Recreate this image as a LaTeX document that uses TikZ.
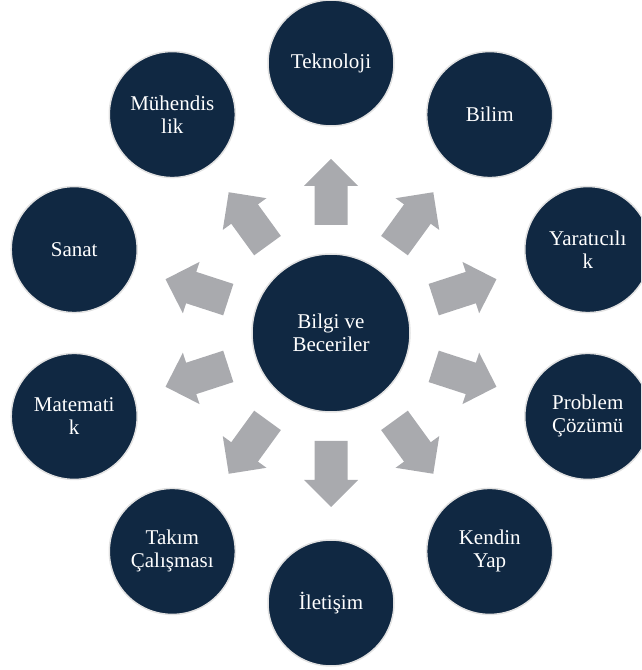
\documentclass[tikz,border=0pt]{standalone}
\usepackage{fontspec}
\setmainfont{Liberation Serif}
\definecolor{navy}{RGB}{16,40,66}
\definecolor{ringgray}{RGB}{226,226,226}
\definecolor{arrowgray}{RGB}{169,170,174}
\begin{document}
\begin{tikzpicture}[x=1pt,y=1pt,
  bubble/.style={circle, fill=navy, draw=ringgray, line width=1.5pt,
    minimum size=126pt, inner sep=0pt, text=white, align=center,
    font=\fontsize{21}{23}\selectfont},
  hub/.style={bubble, minimum size=158pt},
  blockarrow/.style={fill=arrowgray, draw=none}]
\useasboundingbox (0,0) rectangle (641,670);
\clip (0,0) rectangle (641,670);
\coordinate (c) at (331,337);
% arrows
\foreach \a in {90,54,18,-18,-54,-90,-126,-162,162,126}
  \fill[blockarrow, shift={(c)}, rotate=\a]
    (108,-16.5) -- (147,-16.5) -- (147,-27) -- (174,0) -- (147,27)
    -- (147,16.5) -- (108,16.5) -- cycle;
% hub
\node[hub] (hub) at (c) {Bilgi ve\\Beceriler};
% outer bubbles
\foreach \a/\n/\t in {90/tek/Teknoloji, 54/bil/Bilim, 18/yar/{Yaratıcılı\\k},
  -18/pro/{Problem\\Çözümü}, -54/ken/{Kendin\\Yap}, -90/ile/İletişim,
  -126/tak/{Takım\\Çalışması}, -162/mat/{Matemati\\k}, 162/san/Sanat,
  126/muh/{Mühendis\\lik}}
  \node[bubble] (\n) at ([shift={(\a:270)}]c) {\t};
\end{tikzpicture}
\end{document}
